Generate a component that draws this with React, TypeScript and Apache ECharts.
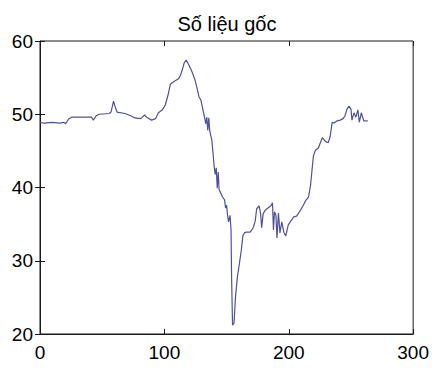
import React, { useEffect, useRef } from "react";
import * as echarts from "echarts";

// Sample positions along the record and the measured values at each one.
const sampleIndex = [
  0, 3.2, 9.5, 15.9, 19, 20.6, 23, 25.4, 41.3, 42.9, 45.2, 47.6, 55.6, 57.1, 59.1, 60.3, 61.9,
  68.3, 73, 76.2, 81, 84.1, 85.7, 89.7, 92.9, 95.2, 98.4, 100.8, 103.2, 104.8, 108, 111.1, 112.7,
  114.3, 115.9, 117.5, 119.8, 122.2, 124.6, 126.2, 127.8, 129.4, 131, 132.5, 133.3, 134.1, 134.9,
  135.7, 136.5, 138.1, 138.9, 140.1, 140.9, 141.7, 142.5, 143.3, 144, 145.2, 146.8, 148.4, 149.2,
  150, 150.8, 151.6, 152.8, 153.6, 154, 154.8, 156, 157.1, 158.7, 160.3, 161.9, 163.1, 164.3,
  165.9, 169, 171.4, 173, 174.2, 176.2, 177.4, 178.2, 179.4, 181, 183.3, 185.7, 186.9, 187.7,
  188.5, 189.7, 190.5, 191.7, 192.9, 194.4, 196, 197.6, 199.6, 201.6, 204, 206.3, 208.7, 211.5,
  213.5, 215.9, 217.5, 218.7, 219.8, 221.4, 223.8, 225.4, 227, 229.4, 231.7, 233.3, 234.9, 236.5,
  238.9, 241.3, 243.7, 245.2, 246.8, 248.4, 250, 250.8, 252.4, 254, 255.6, 256.7, 258.3, 260.3,
  263.5,
];

const readings = [
  48.87, 48.8, 48.9, 48.8, 48.9, 48.7, 49.35, 49.6, 49.6, 49.2, 49.8, 50.0, 50.1, 50.3, 51.8, 51.1,
  50.3, 50.1, 49.8, 49.5, 49.4, 49.9, 49.6, 49.2, 49.4, 50.2, 50.6, 51.3, 52.8, 54.1, 54.5, 54.8,
  55.2, 56.0, 57.0, 57.4, 56.7, 55.8, 54.7, 53.6, 52.4, 51.9, 50.6, 49.4, 48.7, 49.6, 47.8, 49.5,
  47.7, 46.5, 45.1, 42.7, 41.8, 42.7, 39.9, 42.1, 39.7, 39.3, 38.7, 38.3, 37.2, 37.6, 36.2, 35.3,
  36.2, 34.2, 28.1, 21.2, 21.5, 24.9, 27.8, 29.6, 31.5, 33.4, 33.8, 33.9, 33.9, 34.5, 35.4, 37.1,
  37.5, 36.4, 34.5, 36.4, 36.9, 37.2, 37.5, 37.9, 34.2, 36.7, 36.2, 33.1, 36.5, 33.8, 35.3, 33.9,
  33.4, 34.9, 35.4, 36.0, 36.1, 36.7, 37.5, 38.2, 38.7, 40.3, 42.4, 44.3, 45.1, 45.4, 46.1, 46.8,
  46.3, 46.1, 47.0, 48.9, 48.8, 49.1, 49.2, 49.4, 49.8, 50.7, 51.1, 50.7, 49.2, 50.2, 49.6, 50.6,
  48.9, 50.2, 49.1, 49.1,
];

const xTicks = { min: 0, max: 300, interval: 100 };
const yTicks = { min: 20, max: 60, interval: 10 };

const FONT = "'Liberation Sans', Arial, sans-serif";
const INK = "#1a1a1a";

export default function App() {
  const ref = useRef<HTMLDivElement>(null);

  useEffect(() => {
    if (!ref.current) return;
    const chart = echarts.init(ref.current, undefined, { renderer: "svg" });

    const tick = { show: true, inside: true, length: 5, lineStyle: { color: INK, width: 1 } };
    const hiddenSide = {
      axisLine: { show: false },
      axisTick: tick,
      axisLabel: { show: false },
      splitLine: { show: false },
    };

    chart.setOption({
      animation: false,
      backgroundColor: "#ffffff",
      title: {
        text: "Số liệu gốc",
        left: 222,
        top: 9,
        textAlign: "center",
        textStyle: { fontFamily: FONT, fontSize: 20, fontWeight: "normal", color: "#000" },
      },
      grid: {
        left: 40,
        right: 14,
        top: 41,
        bottom: 34,
        show: true,
        borderColor: INK,
        borderWidth: 1,
        backgroundColor: "transparent",
      },
      xAxis: [
        {
          type: "value",
          position: "bottom",
          ...xTicks,
          axisLine: { show: true, lineStyle: { color: INK, width: 1 } },
          axisTick: tick,
          axisLabel: { fontFamily: FONT, fontSize: 19, color: "#000", margin: 9 },
          splitLine: { show: false },
        },
        { type: "value", position: "top", ...xTicks, ...hiddenSide },
      ],
      yAxis: [
        {
          type: "value",
          position: "left",
          ...yTicks,
          axisLine: { show: true, lineStyle: { color: INK, width: 1 } },
          axisTick: tick,
          axisLabel: { fontFamily: FONT, fontSize: 19, color: "#000", margin: 7 },
          splitLine: { show: false },
        },
        { type: "value", position: "right", ...yTicks, ...hiddenSide },
      ],
      series: [
        {
          type: "line",
          xAxisIndex: 0,
          yAxisIndex: 0,
          data: sampleIndex.map((x, i) => [x, readings[i]]),
          showSymbol: false,
          lineStyle: { color: "#50509a", width: 1.2 },
        },
      ],
    });

    return () => chart.dispose();
  }, []);

  return (
    <div
      ref={ref}
      style={{ position: "fixed", left: 0, top: 0, width: 432, height: 368, background: "#fff" }}
    />
  );
}
